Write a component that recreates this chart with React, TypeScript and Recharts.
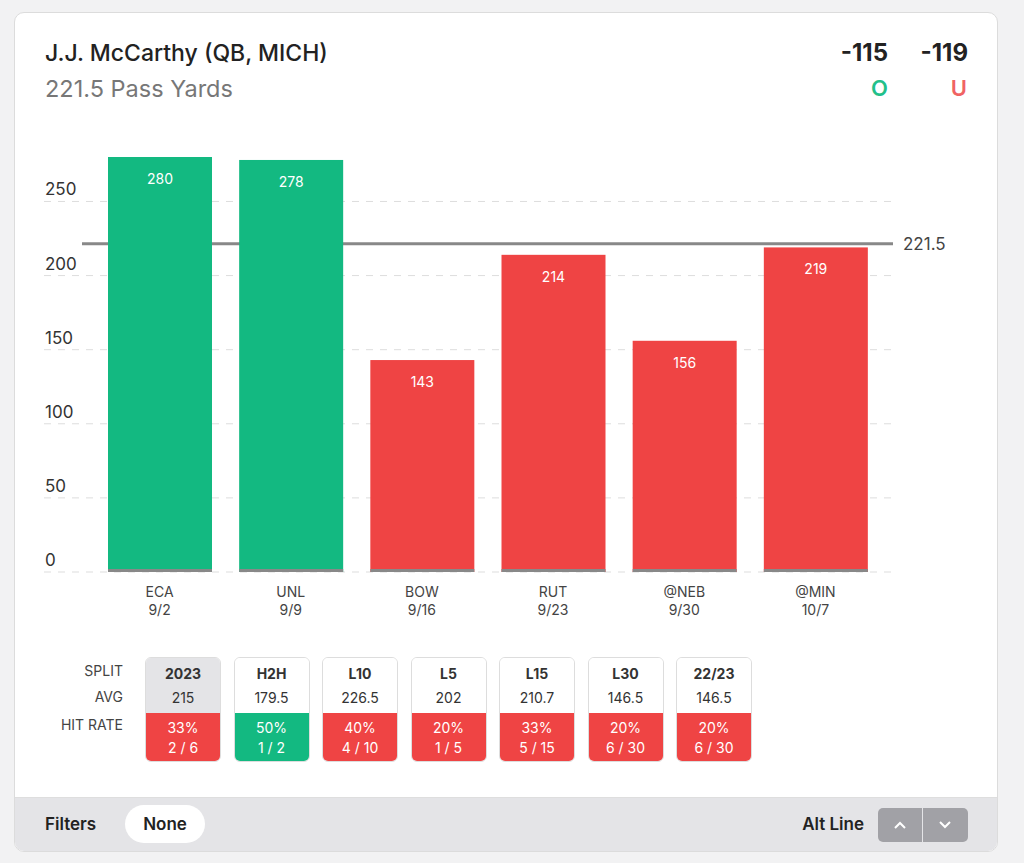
import { BarChart, Bar, XAxis, YAxis, ReferenceLine, LabelList, Cell } from 'recharts'

const opponents = ['ECA', 'UNL', 'BOW', 'RUT', '@NEB', '@MIN']
const dates = ['9/2', '9/9', '9/16', '9/23', '9/30', '10/7']
const passYards = [280, 278, 143, 214, 156, 219]
const yTicks = [0, 50, 100, 150, 200, 250]
const propLine = 221.5

const splitNames = ['2023', 'H2H', 'L10', 'L5', 'L15', 'L30', '22/23']
const splitAvgs = ['215', '179.5', '226.5', '202', '210.7', '146.5', '146.5']
const splitHits = [2, 1, 4, 1, 5, 6, 6]
const splitGames = [6, 2, 10, 5, 15, 30, 30]

const GREEN = '#13b981'
const RED = '#ef4444'
const FONT = 'Inter, "Noto Sans", sans-serif'

const data = opponents.map((opp, i) => ({ opp, date: dates[i], value: passYards[i] }))

function XTick(props: any) {
  const { x, y, payload } = props
  const row = data[payload.index]
  return (
    <g>
      <text x={x} y={y + 17} textAnchor="middle" fontSize={14} fill="#444" fontFamily={FONT}>
        {row.opp}
      </text>
      <text x={x} y={y + 35} textAnchor="middle" fontSize={14} fill="#444" fontFamily={FONT}>
        {row.date}
      </text>
    </g>
  )
}

// dashed gridline with its value written above the line at the far left
function GridShape(props: any) {
  const { x1, x2, y1, value } = props
  return (
    <g>
      <line x1={x1} x2={x2} y1={y1} y2={y1} stroke="#ddd" strokeDasharray="7 7" />
      <text x={45} y={y1 - 6} fontSize={17} fill="#333" fontFamily={FONT}>
        {value}
      </text>
    </g>
  )
}

function BarShape(props: any) {
  const { x, y, width, height, fill } = props
  return (
    <g>
      <rect x={x} y={y} width={width} height={height} fill={fill} />
      <rect x={x} y={y + height - 3} width={width} height={3} fill="#888" />
    </g>
  )
}

function LineShape(props: any) {
  const { x1, x2, y1 } = props
  return <line x1={x1 + 38} x2={x2} y1={y1} y2={y1} stroke="#888" strokeWidth={3} />
}

function Chart() {
  return (
    <BarChart
      width={1000}
      height={500}
      data={data}
      margin={{ top: 27, right: 107, left: 44, bottom: 8 }}
    >
      <XAxis
        dataKey="opp"
        axisLine={false}
        tickLine={false}
        height={50}
        padding={{ left: 50, right: 12 }}
        tick={<XTick />}
        interval={0}
      />
      <YAxis hide domain={[0, 280]} ticks={yTicks} />
      {yTicks.map((t) => (
        <ReferenceLine key={t} y={t} zIndex={-10} shape={<GridShape value={t} />} />
      ))}
      <ReferenceLine
        y={propLine}
        zIndex={-5}
        shape={<LineShape />}
        label={{ value: '221.5', position: 'right', fill: '#444', fontSize: 17, fontFamily: FONT, offset: 10 }}
      />
      <Bar dataKey="value" barSize={104} isAnimationActive={false} shape={<BarShape />}>
        {data.map((d) => (
          <Cell key={d.opp} fill={d.value > propLine ? GREEN : RED} />
        ))}
        <LabelList dataKey="value" position="insideTop" offset={17} fill="#fff" fontSize={14} fontFamily={FONT} />
      </Bar>
    </BarChart>
  )
}

function SplitBox({ i }: { i: number }) {
  const pct = Math.round((splitHits[i] / splitGames[i]) * 100)
  const hitColor = pct >= 50 ? GREEN : RED
  return (
    <div
      style={{
        position: 'absolute',
        left: 145 + i * 88.5,
        top: 657,
        width: 76,
        height: 105,
        border: '1px solid #ddd',
        borderRadius: 6,
        overflow: 'hidden',
        boxSizing: 'border-box',
        textAlign: 'center',
        fontSize: 14,
      }}
    >
      <div style={{ height: 55, background: i === 0 ? '#e4e4e7' : '#fff', color: '#333' }}>
        <div style={{ paddingTop: 7, fontWeight: 700, lineHeight: '18px' }}>{splitNames[i]}</div>
        <div style={{ paddingTop: 6, lineHeight: '18px' }}>{splitAvgs[i]}</div>
      </div>
      <div style={{ height: 50, background: hitColor, color: '#fff', lineHeight: '20px', paddingTop: 5 }}>
        <div>{pct}%</div>
        <div>
          {splitHits[i]} / {splitGames[i]}
        </div>
      </div>
    </div>
  )
}

export default function App() {
  return (
    <div
      style={{
        position: 'absolute',
        left: 0,
        top: 0,
        width: 1024,
        height: 863,
        background: '#f2f2f3',
        fontFamily: FONT,
      }}
    >
      <div
        style={{
          position: 'absolute',
          left: 14,
          top: 12,
          width: 984,
          height: 840,
          background: '#fff',
          border: '1px solid #dcdcdc',
          borderRadius: 10,
          boxSizing: 'border-box',
          overflow: 'hidden',
        }}
      >
        <div
          style={{
            position: 'absolute',
            left: 0,
            right: 0,
            bottom: 0,
            height: 53,
            background: '#e4e4e7',
            borderTop: '1px solid #dedede',
          }}
        />
      </div>

      <div style={{ position: 'absolute', left: 45, top: 39, fontSize: 23, fontWeight: 500, color: '#222' }}>
        J.J. McCarthy (QB, MICH)
      </div>
      <div style={{ position: 'absolute', left: 45, top: 74, fontSize: 23.5, fontWeight: 400, color: '#777' }}>
        221.5 Pass Yards
      </div>
      <div style={{ position: 'absolute', right: 1024 - 888, top: 38, fontSize: 24, fontWeight: 700, color: '#222' }}>
        -115
      </div>
      <div style={{ position: 'absolute', right: 1024 - 968, top: 38, fontSize: 24, fontWeight: 700, color: '#222' }}>
        -119
      </div>
      <div style={{ position: 'absolute', right: 1024 - 888, top: 75, fontSize: 22, fontWeight: 600, color: '#22c08a' }}>
        O
      </div>
      <div style={{ position: 'absolute', right: 1024 - 967, top: 75, fontSize: 22, fontWeight: 600, color: '#f06363' }}>
        U
      </div>

      <div style={{ position: 'absolute', left: 0, top: 130 }}>
        <Chart />
      </div>

      {['SPLIT', 'AVG', 'HIT RATE'].map((t, i) => (
        <div
          key={t}
          style={{
            position: 'absolute',
            right: 1024 - 123,
            top: [662, 688, 716][i],
            fontSize: 14,
            color: '#444',
          }}
        >
          {t}
        </div>
      ))}
      {splitNames.map((n, i) => (
        <SplitBox key={n} i={i} />
      ))}

      <div style={{ position: 'absolute', left: 45, top: 814, fontSize: 17, fontWeight: 600, color: '#222' }}>
        Filters
      </div>
      <div
        style={{
          position: 'absolute',
          left: 125,
          top: 805,
          width: 80,
          height: 38,
          borderRadius: 19,
          background: '#fff',
          fontSize: 17,
          fontWeight: 600,
          color: '#222',
          textAlign: 'center',
          lineHeight: '38px',
        }}
      >
        None
      </div>
      <div style={{ position: 'absolute', right: 1024 - 864, top: 814, fontSize: 17, fontWeight: 600, color: '#222' }}>
        Alt Line
      </div>
      <div
        style={{
          position: 'absolute',
          left: 878,
          top: 808,
          width: 90,
          height: 34,
          borderRadius: 5,
          background: '#a1a1a6',
          overflow: 'hidden',
        }}
      >
        <div style={{ position: 'absolute', left: 44, top: 0, width: 1, height: 34, background: '#e4e4e7' }} />
        <svg width={90} height={34} style={{ position: 'absolute', left: 0, top: 0 }}>
          <polyline points="17,20 22,15 27,20" fill="none" stroke="#fff" strokeWidth={2} />
          <polyline points="62,14 67,19 72,14" fill="none" stroke="#fff" strokeWidth={2} />
        </svg>
      </div>
    </div>
  )
}
